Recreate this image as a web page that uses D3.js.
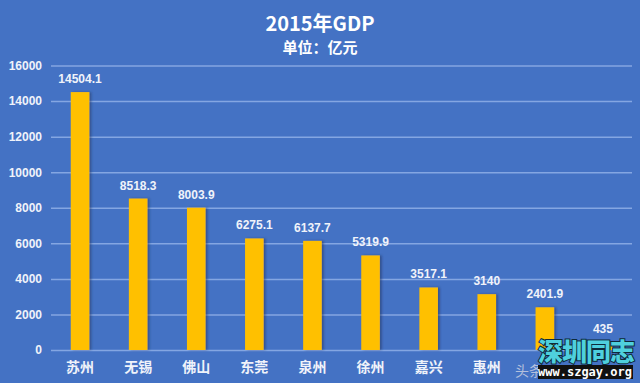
<!DOCTYPE html>
<html><head><meta charset="utf-8">
<script src="https://cdn.jsdelivr.net/npm/d3@7"></script>
<style>html,body{margin:0;padding:0;background:#4472c4;}svg{display:block;}</style>
</head><body><svg id="c" width="640" height="383"></svg>
<script>
const categories = ["苏州","无锡","佛山","东莞","泉州","徐州","嘉兴","惠州","珠海","三亚"];
const values = [14504.1, 8518.3, 8003.9, 6275.1, 6137.7, 5319.9, 3517.1, 3140, 2401.9, 435];
const valueLabels = ["14504.1","8518.3","8003.9","6275.1","6137.7","5319.9","3517.1","3140","2401.9","435"];
const hiddenCategories = ["珠海","三亚"]; // covered by the watermark in the reference
const yTicks = [0,2000,4000,6000,8000,10000,12000,14000,16000];
const title = "2015年GDP";
const subtitle = "单位：亿元";

const svg = d3.select("#c");
const W = 640, H = 383;
svg.append("rect").attr("width", W).attr("height", H).attr("fill", "#4472c4");

const defs = svg.append("defs");
const f = defs.append("filter").attr("id","sh").attr("x","-20%").attr("y","-5%").attr("width","160%").attr("height","110%");
f.append("feDropShadow").attr("dx",2).attr("dy",0).attr("stdDeviation",1).attr("flood-color","#1a2f5a").attr("flood-opacity",0.5);

const font = "'Liberation Sans', Arial, 'Noto Sans CJK SC', sans-serif";
const cjk = "'Noto Sans CJK SC', 'Liberation Sans', sans-serif";

const x = d3.scaleBand().domain(categories).range([51, 632]).paddingInner(0.68).paddingOuter(0.34);
const y = d3.scaleLinear().domain([0, 16000]).range([350, 65.5]);

// gridlines
const yAxis = d3.axisLeft(y).tickValues(yTicks).tickSize(-(632 - 51)).tickPadding(9).tickFormat(d3.format("d"));
const gy = svg.append("g").attr("transform", "translate(51,0)").call(yAxis);
gy.select(".domain").remove();
gy.selectAll(".tick line").attr("stroke", "#84a6e2").attr("stroke-width", 1.5);
gy.selectAll(".tick text").attr("fill", "#f0f3fa").attr("font-family", font).attr("font-weight", "bold").attr("font-size", 12);

// bars
svg.append("g").selectAll("rect").data(values).join("rect")
  .attr("x", (d,i) => x(categories[i]))
  .attr("y", d => y(d))
  .attr("width", x.bandwidth())
  .attr("height", d => y(0) - y(d))
  .attr("fill", "#ffc000")
  .attr("filter", "url(#sh)");

// value labels
svg.append("g").selectAll("text").data(values).join("text")
  .attr("x", (d,i) => x(categories[i]) + x.bandwidth()/2)
  .attr("y", d => y(d) - 9)
  .attr("text-anchor", "middle")
  .attr("fill", "#f0f3fa").attr("font-family", font).attr("font-weight", "bold").attr("font-size", 12)
  .text((d,i) => valueLabels[i]);

// category axis
const xAxis = d3.axisBottom(x).tickSize(0).tickPadding(12);
const gx = svg.append("g").attr("transform", "translate(0,350)").call(xAxis);
gx.select(".domain").remove();
gx.selectAll(".tick").filter(d => hiddenCategories.includes(d)).select("text").remove();
gx.selectAll(".tick text").attr("fill", "#f0f3fa").attr("font-family", cjk).attr("font-weight", "bold").attr("font-size", 14);

// titles
svg.append("text").attr("x", 320).attr("y", 31).attr("text-anchor", "middle")
  .attr("fill", "#ffffff").attr("font-family", cjk).attr("font-weight", "bold").attr("font-size", 20).text(title);
svg.append("text").attr("x", 320).attr("y", 53).attr("text-anchor", "middle")
  .attr("fill", "#ffffff").attr("font-family", cjk).attr("font-weight", "bold").attr("font-size", 15).text(subtitle);

// watermark overlay
const wm = svg.append("g");
wm.append("text").attr("x", 515).attr("y", 376).attr("fill", "#b4c0dc").attr("font-family", cjk).attr("font-size", 14).text("头条");
wm.append("text").attr("x", 586).attr("y", 361).attr("text-anchor", "middle")
  .attr("fill", "#4fd0dd").attr("stroke", "#0d2a3a").attr("stroke-width", 2).attr("paint-order", "stroke")
  .attr("font-family", cjk).attr("font-weight", "900").attr("font-size", 25).attr("letter-spacing", -1).text("深圳同志");
wm.append("rect").attr("x", 538).attr("y", 365).attr("width", 95).attr("height", 14).attr("fill", "#111");
wm.append("text").attr("x", 585).attr("y", 376).attr("text-anchor", "middle")
  .attr("fill", "#ffffff").attr("font-family", "'DejaVu Sans Mono', monospace").attr("font-weight", "bold").attr("font-size", 12).text("www.szgay.org");
</script></body></html>
